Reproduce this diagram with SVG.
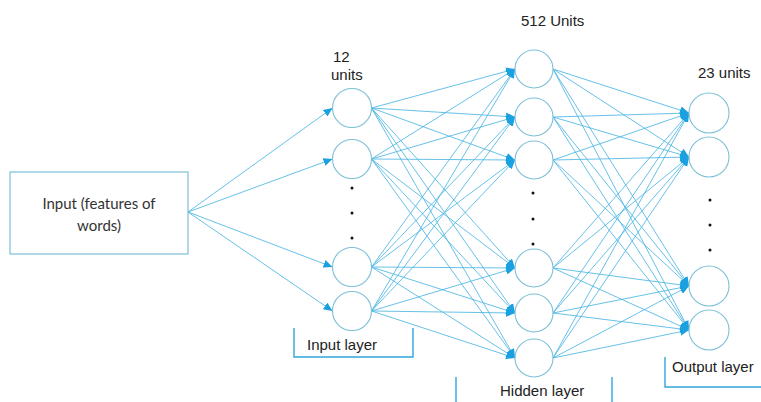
<svg xmlns="http://www.w3.org/2000/svg" width="761" height="402" viewBox="0 0 761 402">
  <style>
    .bg { fill: #ffffff; }
    .box { fill: #ffffff; stroke: #7cbfd6; stroke-width: 1.2; }
    .node { fill: #ffffff; stroke: #7cbfd6; stroke-width: 1.1; }
    .edge { fill: none; stroke: #4cb6e4; stroke-width: 0.85; marker-end: url(#arrow); }
    .bracket { fill: none; stroke: #2fa6dc; stroke-width: 1.4; }
    .dot { fill: #111111; }
    .lbl { font-family: "Liberation Sans", Arial, sans-serif; font-size: 15px; fill: #222222; }
    .boxlbl { font-family: "Lato", "Liberation Sans", sans-serif; font-size: 15px; fill: #333333; text-anchor: middle; }
  </style>
  <defs>
    <marker id="arrow" markerUnits="userSpaceOnUse" markerWidth="10" markerHeight="8" refX="9" refY="4" orient="auto">
      <path d="M0,0 L9,4 L0,8 Z" fill="#1ba1e0"/>
    </marker>
  </defs>
  <rect class="bg" x="0" y="0" width="761" height="402"/>

  <!-- connectors -->
  <g id="connectors">
    <!-- feature box to input layer -->
    <line class="edge" x1="188" y1="212" x2="332.5" y2="108"/>
    <line class="edge" x1="188" y1="212" x2="332.5" y2="159"/>
    <line class="edge" x1="188" y1="212" x2="332.5" y2="267"/>
    <line class="edge" x1="188" y1="212" x2="332.5" y2="311"/>

    <!-- input layer to hidden layer -->
    <line class="edge" x1="371.5" y1="108" x2="515" y2="69"/>
    <line class="edge" x1="371.5" y1="108" x2="515" y2="117"/>
    <line class="edge" x1="371.5" y1="108" x2="515" y2="160"/>
    <line class="edge" x1="371.5" y1="108" x2="515" y2="268"/>
    <line class="edge" x1="371.5" y1="108" x2="515" y2="313"/>
    <line class="edge" x1="371.5" y1="108" x2="515" y2="358"/>

    <line class="edge" x1="371.5" y1="159" x2="515" y2="69"/>
    <line class="edge" x1="371.5" y1="159" x2="515" y2="117"/>
    <line class="edge" x1="371.5" y1="159" x2="515" y2="160"/>
    <line class="edge" x1="371.5" y1="159" x2="515" y2="268"/>
    <line class="edge" x1="371.5" y1="159" x2="515" y2="313"/>
    <line class="edge" x1="371.5" y1="159" x2="515" y2="358"/>

    <line class="edge" x1="371.5" y1="267" x2="515" y2="69"/>
    <line class="edge" x1="371.5" y1="267" x2="515" y2="117"/>
    <line class="edge" x1="371.5" y1="267" x2="515" y2="160"/>
    <line class="edge" x1="371.5" y1="267" x2="515" y2="268"/>
    <line class="edge" x1="371.5" y1="267" x2="515" y2="313"/>
    <line class="edge" x1="371.5" y1="267" x2="515" y2="358"/>

    <line class="edge" x1="371.5" y1="311" x2="515" y2="69"/>
    <line class="edge" x1="371.5" y1="311" x2="515" y2="117"/>
    <line class="edge" x1="371.5" y1="311" x2="515" y2="160"/>
    <line class="edge" x1="371.5" y1="311" x2="515" y2="268"/>
    <line class="edge" x1="371.5" y1="311" x2="515" y2="313"/>
    <line class="edge" x1="371.5" y1="311" x2="515" y2="358"/>

    <!-- hidden layer to output layer -->
    <line class="edge" x1="553" y1="69" x2="689" y2="113"/>
    <line class="edge" x1="553" y1="69" x2="689" y2="157"/>
    <line class="edge" x1="553" y1="69" x2="689" y2="286"/>
    <line class="edge" x1="553" y1="69" x2="689" y2="330"/>

    <line class="edge" x1="553" y1="117" x2="689" y2="113"/>
    <line class="edge" x1="553" y1="117" x2="689" y2="157"/>
    <line class="edge" x1="553" y1="117" x2="689" y2="286"/>
    <line class="edge" x1="553" y1="117" x2="689" y2="330"/>

    <line class="edge" x1="553" y1="160" x2="689" y2="113"/>
    <line class="edge" x1="553" y1="160" x2="689" y2="157"/>
    <line class="edge" x1="553" y1="160" x2="689" y2="286"/>
    <line class="edge" x1="553" y1="160" x2="689" y2="330"/>

    <line class="edge" x1="553" y1="268" x2="689" y2="113"/>
    <line class="edge" x1="553" y1="268" x2="689" y2="157"/>
    <line class="edge" x1="553" y1="268" x2="689" y2="286"/>
    <line class="edge" x1="553" y1="268" x2="689" y2="330"/>

    <line class="edge" x1="553" y1="313" x2="689" y2="113"/>
    <line class="edge" x1="553" y1="313" x2="689" y2="157"/>
    <line class="edge" x1="553" y1="313" x2="689" y2="286"/>
    <line class="edge" x1="553" y1="313" x2="689" y2="330"/>

    <line class="edge" x1="553" y1="358" x2="689" y2="113"/>
    <line class="edge" x1="553" y1="358" x2="689" y2="157"/>
    <line class="edge" x1="553" y1="358" x2="689" y2="286"/>
    <line class="edge" x1="553" y1="358" x2="689" y2="330"/>
  </g>

  <!-- feature box -->
  <g id="input-features">
    <rect class="box" x="10" y="172" width="178" height="82"/>
    <text class="boxlbl" x="99" y="209">Input (features of</text>
    <text class="boxlbl" x="99" y="231">words)</text>
  </g>

  <!-- input layer -->
  <g id="input-layer">
    <circle id="in1" class="node" cx="352" cy="108" r="19.5"/>
    <circle id="in2" class="node" cx="352" cy="159" r="19.5"/>
    <circle id="in3" class="node" cx="352" cy="267" r="19.5"/>
    <circle id="in4" class="node" cx="352" cy="311" r="19.5"/>
    <circle class="dot" cx="352" cy="188" r="1.5"/>
    <circle class="dot" cx="352" cy="213" r="1.5"/>
    <circle class="dot" cx="352" cy="238" r="1.5"/>
    <text class="lbl" x="333" y="62">12</text>
    <text class="lbl" x="331" y="80">units</text>
    <path class="bracket" d="M294,328 V357 H413 V328"/>
    <text class="lbl" x="307" y="350">Input layer</text>
  </g>

  <!-- hidden layer -->
  <g id="hidden-layer">
    <circle id="h1" class="node" cx="534" cy="69" r="19"/>
    <circle id="h2" class="node" cx="534" cy="117" r="19"/>
    <circle id="h3" class="node" cx="534" cy="160" r="19"/>
    <circle id="h4" class="node" cx="534" cy="268" r="19"/>
    <circle id="h5" class="node" cx="534" cy="313" r="19"/>
    <circle id="h6" class="node" cx="534" cy="358" r="19"/>
    <circle class="dot" cx="533" cy="193" r="1.5"/>
    <circle class="dot" cx="533" cy="219" r="1.5"/>
    <circle class="dot" cx="533" cy="244" r="1.5"/>
    <text class="lbl" x="521" y="26">512 Units</text>
    <path class="bracket" d="M456,377 V402 M612,377 V402"/>
    <text class="lbl" x="500" y="396">Hidden layer</text>
  </g>

  <!-- output layer -->
  <g id="output-layer">
    <circle id="o1" class="node" cx="709" cy="113" r="20"/>
    <circle id="o2" class="node" cx="709" cy="157" r="20"/>
    <circle id="o3" class="node" cx="709" cy="286" r="20"/>
    <circle id="o4" class="node" cx="709" cy="330" r="20"/>
    <circle class="dot" cx="710" cy="200" r="1.5"/>
    <circle class="dot" cx="710" cy="225" r="1.5"/>
    <circle class="dot" cx="710" cy="250" r="1.5"/>
    <text class="lbl" x="698" y="78">23 units</text>
    <path class="bracket" d="M665,357 V387 H761"/>
    <text class="lbl" x="672" y="372">Output layer</text>
  </g>
</svg>
